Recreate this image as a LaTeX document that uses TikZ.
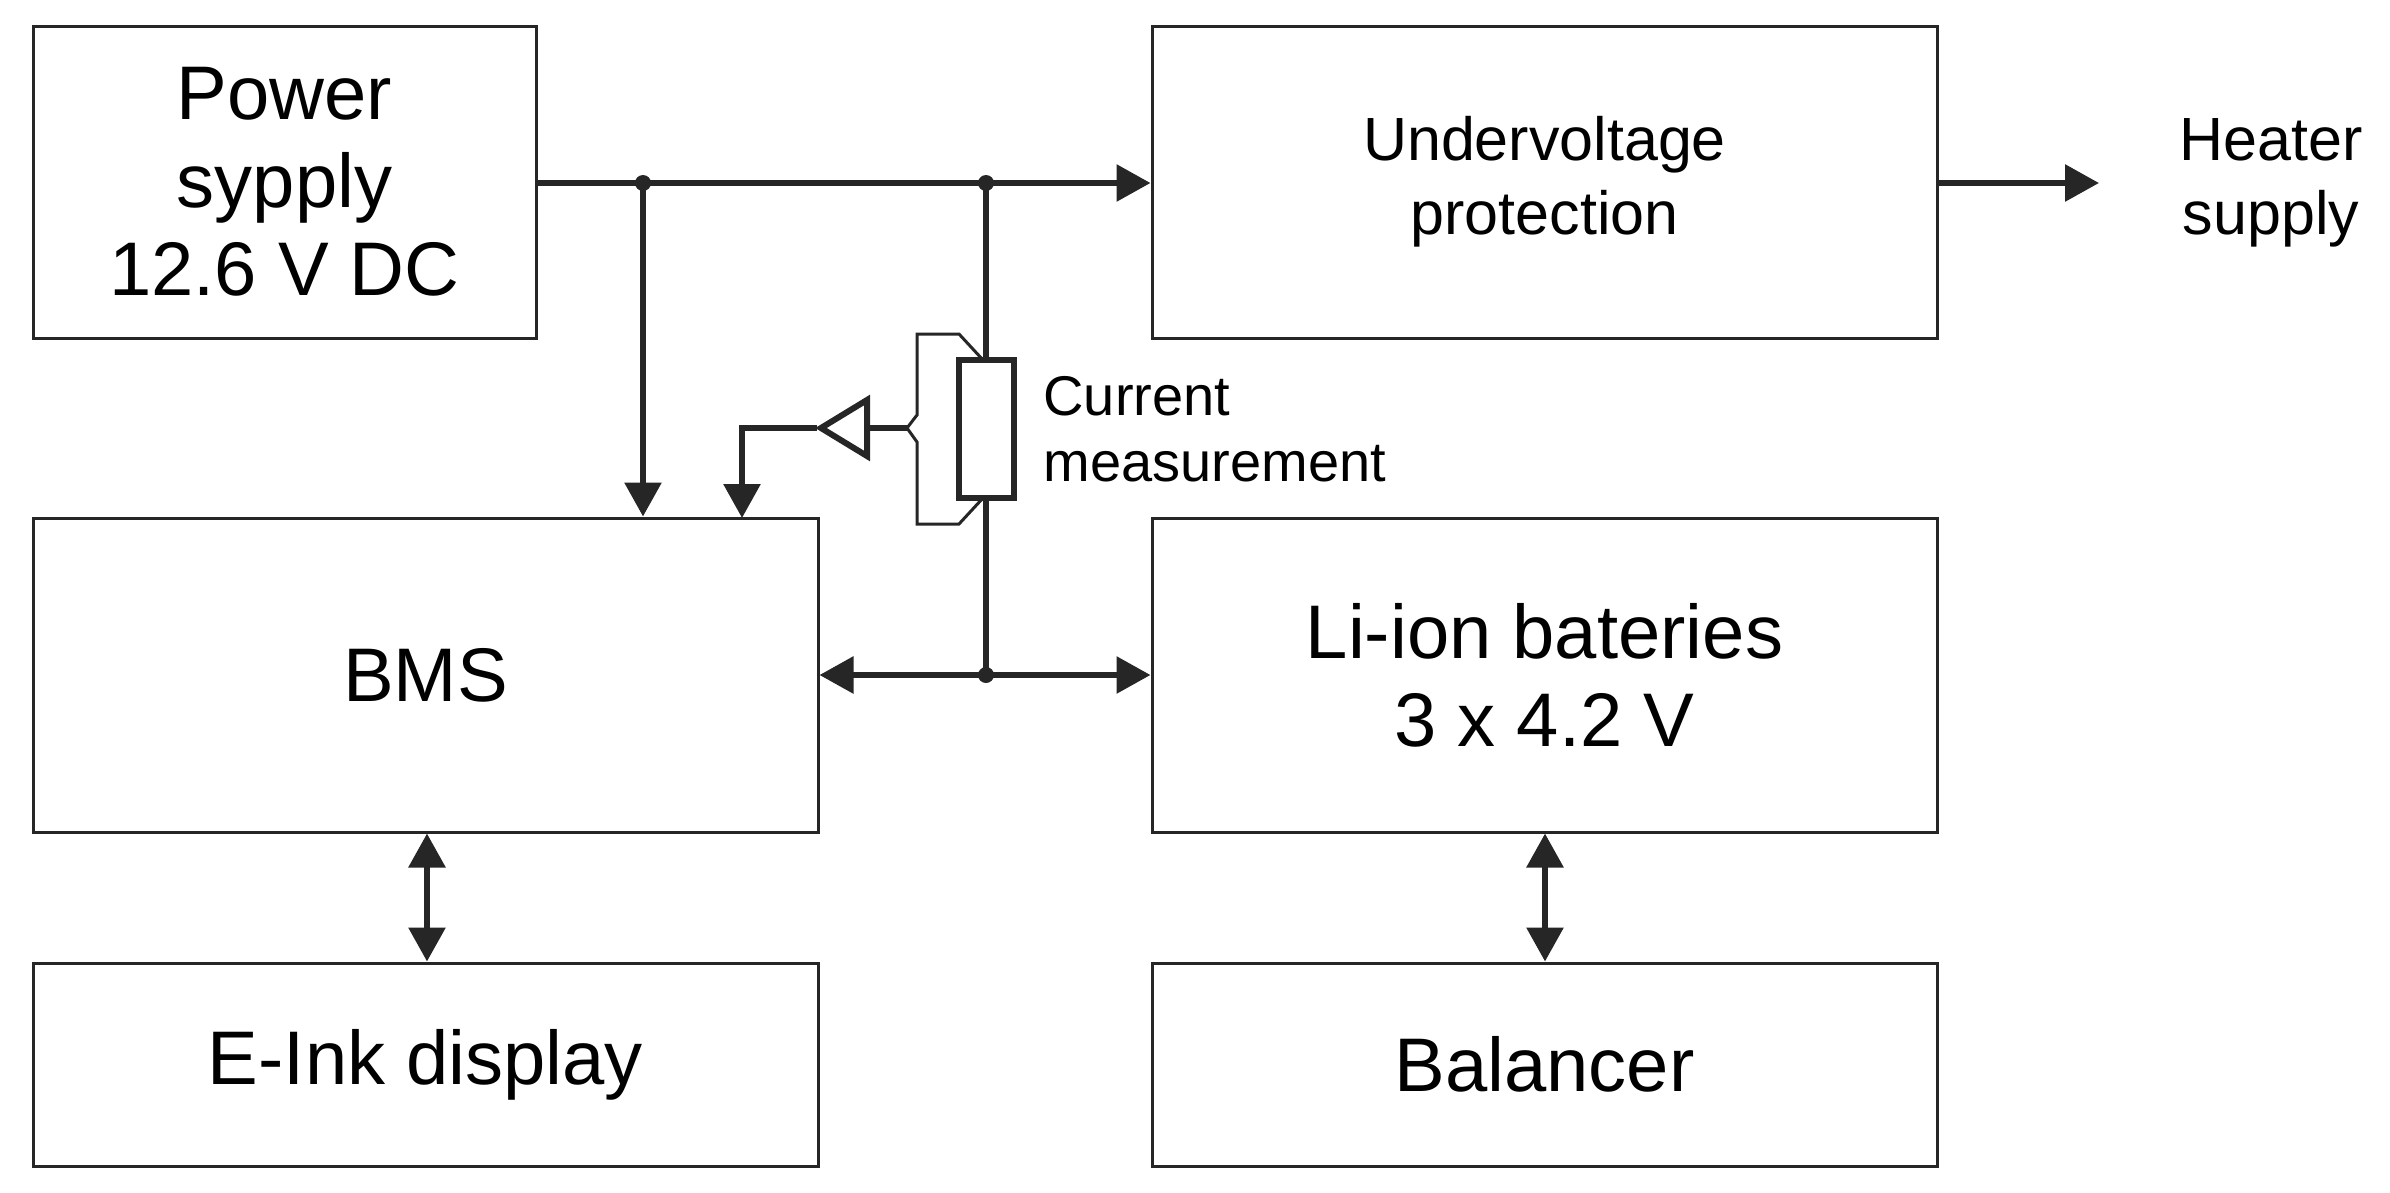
\documentclass[tikz,border=0pt]{standalone}
\usepackage{fontspec}
\setmainfont{Liberation Sans}
\usetikzlibrary{arrows.meta}
\begin{document}
\begin{tikzpicture}[x=1pt,y=-1pt,
  box/.style={draw=black!85,line width=3pt,inner sep=0pt,align=center},
  wire/.style={draw=black!85,line width=6pt},
  arr/.style={wire,-{Triangle[length=34pt,width=36pt]}},
  darr/.style={wire,{Triangle[length=34pt,width=36pt]}-{Triangle[length=34pt,width=36pt]}},
  dot/.style={circle,fill=black!85,inner sep=0pt,minimum size=16pt},
  big/.style={font=\fontsize{76}{88}\selectfont},
  mid/.style={font=\fontsize{61}{74}\selectfont},
  small/.style={font=\fontsize{56}{66}\selectfont}]
\useasboundingbox (0,0) rectangle (2390,1192);
\node[box,big,minimum width=503pt,minimum height=312pt] (ps) at (284.5,182) {Power\\ sypply\\ 12.6 V DC};
\node[box,mid,minimum width=785pt,minimum height=312pt] (uv) at (1544.5,182) {Undervoltage\\ protection};
\node[box,big,minimum width=785pt,minimum height=314pt] (bms) at (425.5,675) {BMS};
\node[box,big,minimum width=785pt,minimum height=314pt] (li) at (1544.5,675) {Li-ion bateries\\ 3 x 4.2 V};
\node[box,big,minimum width=785pt,minimum height=203pt] (ei) at (425.5,1064.5) {E-Ink display};
\node[box,big,minimum width=785pt,minimum height=203pt] (bal) at (1544.5,1064.5) {Balancer};
\node[mid,align=center] (heat) at (2271,183) {Heater\\ supply};
\node[small,align=left,anchor=west] (cm) at (1040,429) {Current\\ measurement};
% top bus
\coordinate (d1) at (643,183);
\coordinate (d2) at (986,183);
\coordinate (d3) at (986,675);
\draw[arr] (ps.east |- d1) -- (uv.west |- d1);
\draw[arr] (d1) -- (d1 |- bms.north);
\draw[arr] (uv.east |- d1) -- (2099,183);
% resistor
\node[draw=black!85,line width=6pt,minimum width=55pt,minimum height=138pt,inner sep=0pt] (res) at (986,429) {};
\draw[wire] (d2) -- (res.north);
\draw[wire] (res.south) -- (d3);
\draw[darr] (bms.east |- d3) -- (li.west |- d3);
\node[dot] at (d1) {};
\node[dot] at (d2) {};
\node[dot] at (d3) {};
% sense bracket
\draw[draw=black!85,line width=3pt] (983,360) -- (959,334) -- (917,334) -- (917,415) -- (907,428) -- (917,442) -- (917,524) -- (959,524) -- (983,498);
% amplifier
\coordinate (amp) at (817,428);
\draw[draw=black!85,line width=6pt,line join=miter] (867,400) -- (821,428) -- (867,456) -- cycle;
\draw[wire] (867,428) -- (907,428);
\draw[arr] (amp) -- (742,428) -- (742,518);
% bidirectional verticals
\draw[darr] (bms.south -| 427,0) -- (ei.north -| 427,0);
\draw[darr] (li.south -| 1545,0) -- (bal.north -| 1545,0);
\end{tikzpicture}
\end{document}
